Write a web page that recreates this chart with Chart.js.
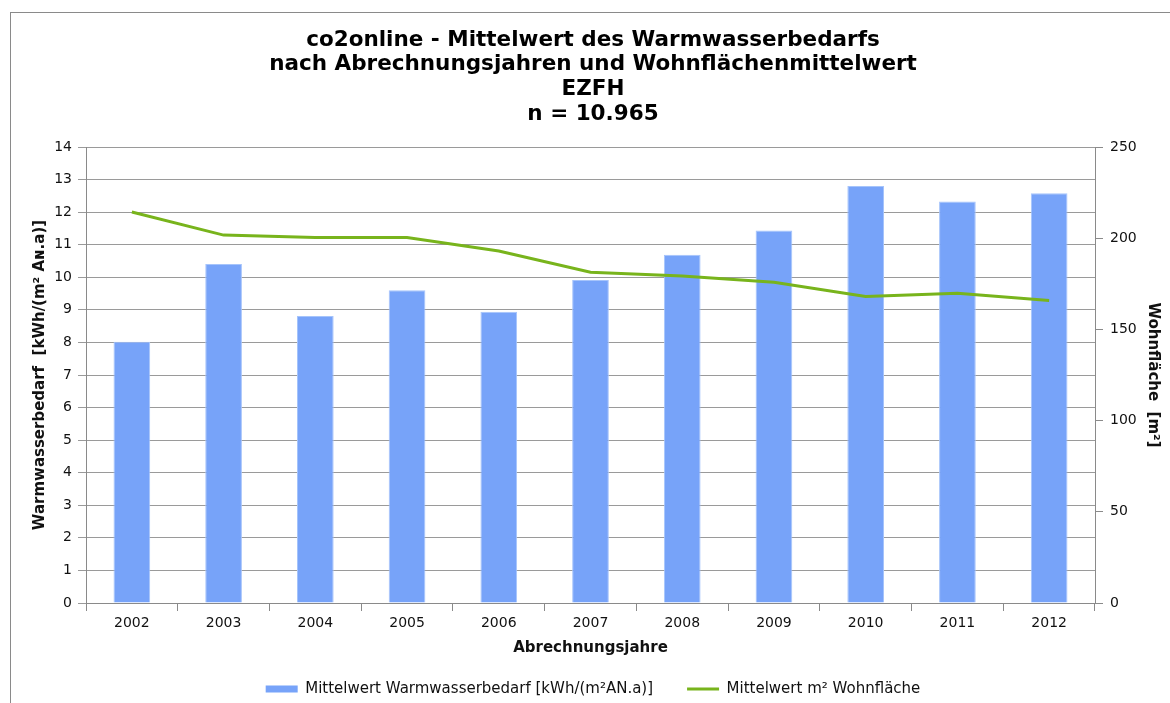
<!DOCTYPE html>
<html>
<head>
<meta charset="utf-8">
<script src="https://cdn.jsdelivr.net/npm/chart.js@4/dist/chart.umd.min.js"></script>
<style>
  html, body { margin: 0; padding: 0; background: #fff; }
  #wrap { position: relative; width: 1170px; height: 703px; }
  #frame { position: absolute; left: 10px; top: 12px; right: -5px; bottom: -5px; border-top: 1px solid #8a8a8a; border-left: 1px solid #8a8a8a; pointer-events: none; }
  canvas { position: absolute; left: 0; top: 0; }
</style>
</head>
<body>
<div id="wrap">
  <div id="frame"></div>
  <canvas id="c" width="1170" height="703"></canvas>
</div>
<script>
const titleLines = [
  'co2online - Mittelwert des Warmwasserbedarfs',
  'nach Abrechnungsjahren und Wohnflächenmittelwert',
  'EZFH',
  'n = 10.965'
];
const years = ['2002', '2003', '2004', '2005', '2006', '2007', '2008', '2009', '2010', '2011', '2012'];
const warmwasserbedarf = [8.02, 10.41, 8.81, 9.60, 8.94, 9.92, 10.69, 11.44, 12.80, 12.33, 12.58];
const wohnflaeche = [214.4, 201.7, 200.4, 200.4, 193.0, 181.3, 179.3, 175.8, 168.0, 169.8, 165.8];
const barLabel = 'Mittelwert Warmwasserbedarf [kWh/(m²AN.a)]';
const lineLabel = 'Mittelwert m² Wohnfläche';
const xTitle = 'Abrechnungsjahre';
const yLeftTitle = 'Warmwasserbedarf  [kWh/(m² Aɴ.a)]';
const yRightTitle = 'Wohnfläche  [m²]';

const BAR = '#77a3f9';
const BAR_BORDER = '#a6c4fb';
const GREEN = '#78b41c';
const GRID = '#9a9a9a';
const AXIS = '#8a8a8a';
const FONT = '"DejaVu Sans", Verdana, sans-serif';

new Chart(document.getElementById('c'), {
  type: 'bar',
  data: {
    labels: years,
    datasets: [
      {
        type: 'bar',
        label: barLabel,
        data: warmwasserbedarf,
        backgroundColor: BAR,
        borderColor: BAR_BORDER,
        borderWidth: 1,
        barPercentage: 0.8,
        categoryPercentage: 0.5,
        yAxisID: 'y',
        order: 1
      },
      {
        type: 'line',
        label: lineLabel,
        data: wohnflaeche,
        borderColor: GREEN,
        backgroundColor: GREEN,
        borderWidth: 3,
        pointRadius: 0,
        tension: 0,
        fill: false,
        yAxisID: 'y1',
        order: 0
      }
    ]
  },
  options: {
    responsive: false,
    animation: false,
    layout: { padding: { left: 16, right: 0, top: 0, bottom: -3.5 } },
    plugins: {
      tooltip: { enabled: false },
      title: {
        display: true,
        text: titleLines,
        color: '#000',
        font: { family: FONT, size: 21.5, weight: 'bold', lineHeight: 1.15 },
        padding: { top: 27.6, bottom: 20.5 }
      },
      legend: {
        position: 'bottom',
        labels: {
          color: '#111',
          font: { family: FONT, size: 15 },
          usePointStyle: true,
          pointStyleWidth: 32,
          boxHeight: 7,
          padding: 34,
          generateLabels(chart) {
            const items = Chart.defaults.plugins.legend.labels.generateLabels(chart);
            items.sort((a, b) => a.datasetIndex - b.datasetIndex);
            items.forEach(it => {
              if (it.datasetIndex === 0) {
                it.pointStyle = 'rect';
                it.fillStyle = BAR;
                it.strokeStyle = BAR;
                it.lineWidth = 0;
              } else {
                it.pointStyle = 'line';
                it.strokeStyle = GREEN;
                it.lineWidth = 3;
              }
            });
            return items;
          }
        }
      }
    },
    scales: {
      x: {
        afterFit(s) { s.height = 44.5; },
        grid: { display: true, drawOnChartArea: false, drawTicks: true, tickLength: 8, color: AXIS, offset: true },
        border: { display: true, color: AXIS },
        ticks: { color: '#111', font: { family: FONT, size: 14 }, padding: 4, maxRotation: 0 },
        title: {
          display: true, text: xTitle, color: '#111',
          font: { family: FONT, size: 15, weight: 'bold' },
          padding: { top: 0, bottom: -9.5 }
        }
      },
      y: {
        position: 'left',
        min: 0, max: 14,
        afterFit(s) { s.width = 70; },
        ticks: { stepSize: 1, color: '#111', font: { family: FONT, size: 14 }, padding: 6 },
        grid: { color: GRID, tickLength: 8 },
        border: { display: true, color: AXIS },
        title: {
          display: true, text: yLeftTitle, color: '#111',
          font: { family: FONT, size: 15, weight: 'bold' },
          padding: { top: 15, bottom: 0 }
        }
      },
      y1: {
        position: 'right',
        min: 0, max: 250,
        afterFit(s) { s.width = 75; },
        ticks: { stepSize: 50, color: '#111', font: { family: FONT, size: 14 }, padding: 7 },
        grid: { drawOnChartArea: false, color: AXIS, tickLength: 8 },
        border: { display: true, color: AXIS },
        title: {
          display: true, text: yRightTitle, color: '#111',
          font: { family: FONT, size: 15, weight: 'bold' },
          padding: { top: 8, bottom: 0 }
        }
      }
    }
  }
});
</script>
</body>
</html>
